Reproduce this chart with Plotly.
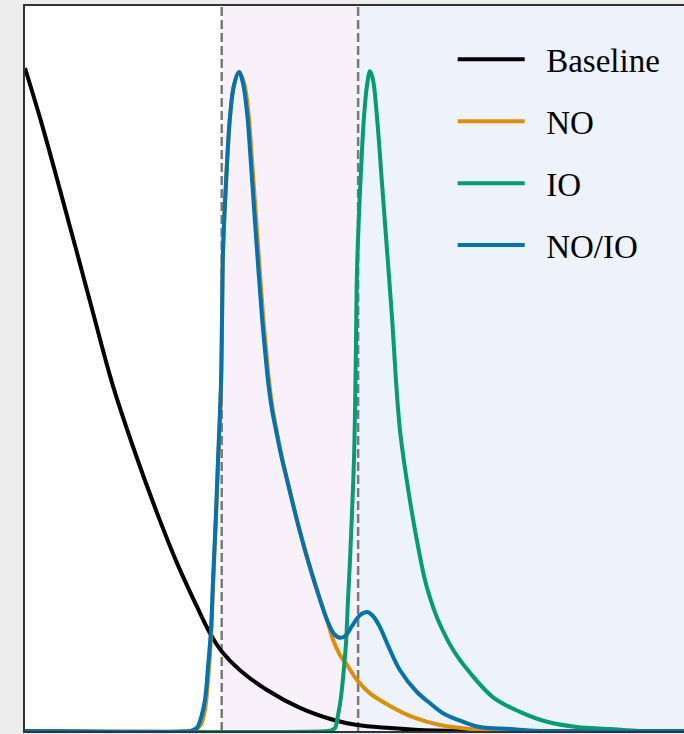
import plotly.graph_objects as go

# ---- data ----
baseline_x = [0.0, 0.25, 0.50, 0.75, 1.00, 1.320, 1.639, 2.003, 2.307, 2.610, 2.807,
              2.989, 3.263, 3.672, 4.173, 4.674, 5.038, 5.539, 5.994, 6.9, 10.0]
baseline_y = [1.003, 0.920, 0.830, 0.738, 0.645, 0.527, 0.430, 0.330, 0.254, 0.188, 0.148,
              0.120, 0.092, 0.062, 0.035, 0.017, 0.009, 0.0045, 0.0015, 0.0, 0.0]

no_x = [0.0, 2.55, 2.595, 2.671, 2.731, 2.777, 2.822, 2.853, 2.898, 2.929, 2.974, 2.990, 3.005,
        3.050, 3.111, 3.171, 3.247, 3.326, 3.396, 3.434, 3.469, 3.540, 3.614, 3.659, 3.707,
        3.760, 3.818, 3.890, 3.978, 4.127, 4.279, 4.431, 4.583, 4.674, 4.780, 4.886, 5.038,
        5.235, 5.539, 5.888, 6.297, 6.753, 7.21, 10.0]
no_y = [0.0, 0.0, 0.002, 0.010, 0.032, 0.076, 0.140, 0.215, 0.320, 0.402, 0.518, 0.622, 0.726,
        0.829, 0.929, 0.977, 0.997, 0.980, 0.929, 0.879, 0.829, 0.728, 0.626, 0.576, 0.526,
        0.486, 0.455, 0.418, 0.380, 0.319, 0.263, 0.213, 0.168, 0.138, 0.115, 0.100, 0.077,
        0.057, 0.038, 0.021, 0.009, 0.003, 0.0, 0.0]

io_x = [0.0, 4.60, 4.643, 4.704, 4.750, 4.795, 4.841, 4.871, 4.901, 4.932, 4.962, 4.992, 5.008,
        5.023, 5.038, 5.068, 5.099, 5.144, 5.190, 5.235, 5.281, 5.341, 5.417, 5.493, 5.569,
        5.630, 5.690, 5.792, 5.918, 6.070, 6.161, 6.267, 6.495, 6.753, 7.102, 7.511, 7.921,
        8.376, 8.877, 9.33, 10.0]
io_y = [0.0, 0.0, 0.001, 0.0045, 0.024, 0.051, 0.097, 0.133, 0.198, 0.259, 0.330, 0.410, 0.486,
        0.592, 0.697, 0.781, 0.849, 0.929, 0.977, 0.998, 0.985, 0.929, 0.829, 0.728, 0.626,
        0.529, 0.455, 0.380, 0.304, 0.228, 0.197, 0.168, 0.123, 0.088, 0.051, 0.029, 0.014,
        0.006, 0.003, 0.0, 0.0]

noio_x = [0.0, 2.50, 2.534, 2.610, 2.671, 2.731, 2.777, 2.822, 2.853, 2.898, 2.929, 2.974, 2.990,
          3.005, 3.050, 3.111, 3.171, 3.247, 3.308, 3.376, 3.414, 3.449, 3.520, 3.596, 3.642,
          3.692, 3.748, 3.809, 3.885, 3.976, 4.127, 4.279, 4.431, 4.583, 4.689, 4.780, 4.871,
          4.962, 5.083, 5.190, 5.281, 5.387, 5.493, 5.690, 5.948, 6.146, 6.343, 6.646, 6.904,
          7.36, 7.81, 10.0]
noio_y = [0.0, 0.0, 0.001, 0.005, 0.020, 0.047, 0.097, 0.153, 0.228, 0.330, 0.410, 0.526, 0.626,
          0.728, 0.829, 0.929, 0.977, 0.997, 0.980, 0.929, 0.879, 0.829, 0.728, 0.626, 0.576,
          0.526, 0.486, 0.455, 0.418, 0.380, 0.319, 0.263, 0.213, 0.168, 0.147, 0.141, 0.145,
          0.159, 0.175, 0.180, 0.174, 0.157, 0.133, 0.092, 0.059, 0.042, 0.027, 0.014, 0.006,
          0.003, 0.0, 0.0]

names = ["Baseline", "NO", "IO", "NO/IO"]
colors = ["#000000", "#DE8F05", "#029E73", "#0173B2"]
thresholds = [2.985, 5.055]
x_range = [0, 10]
y_range = [0, 1.0968]

series = [(baseline_x, baseline_y), (no_x, no_y), (io_x, io_y), (noio_x, noio_y)]
PAD = "\u00a0\u00a0"  # visual gap between legend line and its label

fig = go.Figure()
for (xs, ys), name, col in zip(series, names, colors):
    fig.add_trace(go.Scatter(
        x=xs, y=ys, mode="lines", name=PAD + name, legendgroup=name,
        line=dict(color=col, width=4, shape="spline", smoothing=1.0),
    ))

# shaded regions
fig.add_vrect(x0=thresholds[0], x1=thresholds[1], fillcolor="#f9f1f9", line_width=0, layer="below")
fig.add_vrect(x0=thresholds[1], x1=x_range[1], fillcolor="#edf2fb", line_width=0, layer="below")
for t in thresholds:
    fig.add_vline(x=t, line=dict(color="#7a7a7a", width=2.5, dash="9px,4px"), layer="below")

fig.update_layout(
    width=684, height=734,
    margin=dict(l=25, r=0, t=6, b=3),
    paper_bgcolor="#ededed",
    plot_bgcolor="#ffffff",
    showlegend=True,
    legend=dict(
        x=0.649, y=0.965, xanchor="left", yanchor="top",
        bgcolor="rgba(0,0,0,0)", borderwidth=0,
        font=dict(family="Liberation Serif", size=33, color="#000000"),
        itemwidth=67, tracegroupgap=16,
    ),
)
fig.update_xaxes(range=x_range, showgrid=False, zeroline=False, showticklabels=False,
                 ticks="", showline=True, linecolor="#333333", linewidth=1.5, mirror=True)
fig.update_yaxes(range=y_range, showgrid=False, zeroline=False, showticklabels=False,
                 ticks="", showline=True, linecolor="#333333", linewidth=1.5, mirror=False)

fig.write_html("out.html", config={"displayModeBar": False},
               post_script="document.body.style.margin='0';document.body.style.overflow='hidden';")
